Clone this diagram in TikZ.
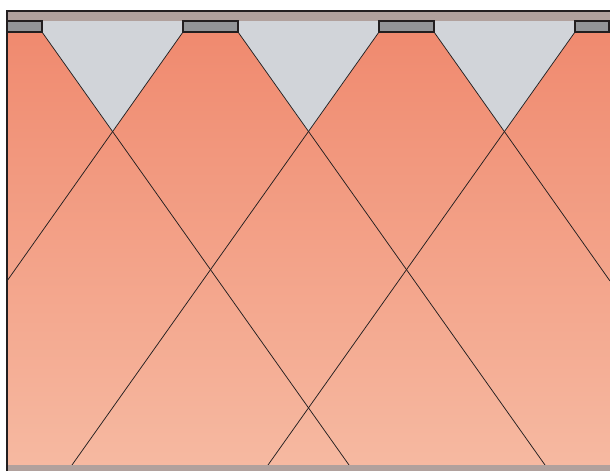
\documentclass[tikz,border=0pt]{standalone}
\usepackage{tikz}
\usetikzlibrary{positioning,calc}
\definecolor{ceilgray}{RGB}{177,161,157}
\definecolor{conegray}{RGB}{209,212,217}
\definecolor{lampgray}{RGB}{147,149,152}
\definecolor{warmtop}{RGB}{240,138,111}
\definecolor{warmbot}{RGB}{246,185,161}
\definecolor{edgedark}{RGB}{35,31,32}

\begin{document}
\begin{tikzpicture}[
    x=1pt, y=-1pt,
    lamp/.style={rectangle, draw=edgedark, line width=1.3pt, fill=lampgray,
                 inner sep=0pt, outer sep=0pt, minimum height=11pt},
    beam/.style={draw=edgedark, line width=0.75pt},
    cone/.style={fill=conegray},
    band/.style={fill=ceilgray}
]
\useasboundingbox (0,0) rectangle (610,471);

% room and light
\fill[conegray] (7,21) rectangle (610,32);
\shade[top color=warmtop, bottom color=warmbot] (7,32) rectangle (610,465);

% lamps
\node[lamp, minimum width=35pt] (lampA) at (24.5,26.5) {};
\node[lamp, minimum width=55pt] (lampB) at (210.5,26.5) {};
\node[lamp, minimum width=55pt] (lampC) at (406.5,26.5) {};
\node[lamp, minimum width=34pt] (lampD) at (592,26.5) {};

% where the beams meet and end
\coordinate (apexAB) at (112.5,131.8);
\coordinate (apexBC) at (308.5,131.8);
\coordinate (apexCD) at (504.5,131.8);
\coordinate (endA)  at (349,465);
\coordinate (endBl) at (7,281);
\coordinate (endBr) at (545,465);
\coordinate (endCl) at (72,465);
\coordinate (endCr) at (610,281);
\coordinate (endD)  at (268,465);

\fill[cone] (lampA.south east) -- (lampB.south west) -- (apexAB) -- cycle;
\fill[cone] (lampB.south east) -- (lampC.south west) -- (apexBC) -- cycle;
\fill[cone] (lampC.south east) -- (lampD.south west) -- (apexCD) -- cycle;

\draw[beam] (lampA.south east) -- (endA);
\draw[beam] (lampB.south west) -- (endBl);
\draw[beam] (lampB.south east) -- (endBr);
\draw[beam] (lampC.south west) -- (endCl);
\draw[beam] (lampC.south east) -- (endCr);
\draw[beam] (lampD.south west) -- (endD);

% ceiling and floor
\fill[band] (7,11) rectangle (610,21);
\fill[band] (7,465) rectangle (610,471);
\node[lamp, minimum width=35pt] at (lampA) {};
\node[lamp, minimum width=55pt] at (lampB) {};
\node[lamp, minimum width=55pt] at (lampC) {};
\node[lamp, minimum width=34pt] at (lampD) {};
\draw[edgedark, line width=1.4pt] (7,471) -- (7,11) -- (610,11);
\end{tikzpicture}
\end{document}
